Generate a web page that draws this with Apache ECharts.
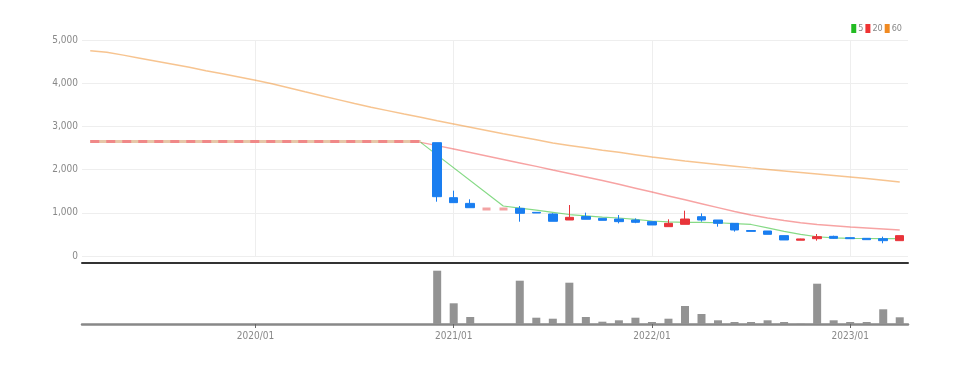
<!DOCTYPE html>
<html><head><meta charset="utf-8">
<script src="https://cdn.jsdelivr.net/npm/echarts@6/dist/echarts.min.js"></script>
<style>html,body{margin:0;padding:0;background:#fff}#c{width:967px;height:365px}</style>
</head><body><div id="c"></div>
<script>
// categories: monthly 2019/03 .. 2023/04
var categories = [];
(function(){var y=2019,m=3;for(var i=0;i<50;i++){categories.push(y+'/'+(m<10?'0'+m:m));m++;if(m>12){m=1;y++;}}})();

// candle values [open, close, low, high]; null = no candle
var candles = [
 null,null,null,null,null,null,null,null,null,null,
 null,null,null,null,null,null,null,null,null,null,
 null,
 [2623,1373,1257,2623],
 [1350,1235,1235,1512],
 [1218,1118,1118,1312],
 [1088,1088,1088,1088],
 [1088,1088,1088,1088],
 [1103,988,794,1157],
 [1010,995,995,1010],
 [972,803,803,990],
 [833,895,833,1180],
 [913,850,850,1003],
 [872,826,826,872],
 [856,795,755,949],
 [833,780,760,870],
 [795,718,718,795],
 [679,756,679,849],
 [733,856,733,1049],
 [910,833,795,987],
 [833,756,679,833],
 [756,602,564,756],
 [590,570,570,590],
 [579,502,502,579],
 [471,371,371,471],
 [365,395,365,401],
 [401,448,355,509],
 [455,409,400,470],
 [424,401,401,424],
 [409,378,378,409],
 [401,355,294,448],
 [355,471,355,471]
];

var volumes = [
 0,0,0,0,0,0,0,0,0,0, 0,0,0,0,0,0,0,0,0,0, 0,
 533000,207000,70000,0,0,433000,63000,53000,413000,70000,
 23000,37000,63000,20000,53000,180000,100000,37000,20000,20000,
 37000,20000,3000,403000,37000,20000,20000,147000,67000
];

var ma5 = [
 null,null,null,null,null,null,null,null,null,null,
 null,null,null,null,null,null,null,null,null,null,
 2630,null,null,null,null,1157,1110,1060,1010,960,
 930,900,880,850,810,790,780,780,770,750,
 730,650,570,500,445,420,410,405,400,400
];

var ma20 = [
 null,null,null,null,null,null,null,null,null,null,
 null,null,null,null,null,null,null,null,null,null,
 2630,2555,2475,2395,2315,2235,2155,2075,1990,1910,
 1830,1750,1660,1570,1480,1390,1300,1210,1120,1030,
 950,880,820,770,730,700,670,650,625,600
];

var ma60 = [
 4750,4715,4650,4580,4510,4440,4370,4290,4220,4145,
 4070,3985,3895,3800,3710,3620,3530,3445,3365,3285,
 3210,3130,3055,2980,2905,2830,2760,2690,2615,2560,
 2505,2450,2400,2345,2290,2245,2200,2160,2120,2080,
 2040,2005,1970,1935,1900,1865,1830,1795,1755,1715
];

// pre-listing reference price line
var basePrice = [
 2650,2650,2650,2650,2650,2650,2650,2650,2650,2650,
 2650,2650,2650,2650,2650,2650,2650,2650,2650,2650,
 2650,null,null,null,null,null,null,null,null,null,
 null,null,null,null,null,null,null,null,null,null,
 null,null,null,null,null,null,null,null,null,null
];

var yTicks = [0,1000,2000,3000,4000,5000];

var FONT = "'Liberation Sans Narrow','DejaVu Sans Condensed','Liberation Sans',sans-serif";
var UP = '#e8343a', DOWN = '#1a7ef0';
function isJan(i, v){ return /\/01$/.test(v); }

var candleData = candles.map(function(c){
  if(!c) return '-';
  if(c[0]===c[1] && c[2]===c[3]) return {value:c, itemStyle:{color:'#f3a3a3',borderColor:'#f3a3a3',color0:'#f3a3a3',borderColor0:'#f3a3a3',borderWidth:3}};
  return c;
});
var volData = volumes.map(function(v){ return v===0 ? '-' : v; });

var chart = echarts.init(document.getElementById('c'), null, {renderer:'canvas'});
chart.setOption({
  animation:false,
  backgroundColor:'#fff',
  legend:{
    data:['5','20','60'], right:60, top:19, icon:'rect', itemWidth:5, itemHeight:9, itemGap:2,
    textStyle:{fontSize:9, color:'#888', fontFamily:FONT, padding:[0,0,0,-3]}
  },
  grid:[
    {left:82, right:59, top:40, bottom:109},
    {left:82, right:59, top:262, bottom:41}
  ],
  xAxis:[
    {type:'category', gridIndex:0, data:categories, boundaryGap:true,
     axisLine:{show:true, onZero:false, lineStyle:{color:'#333', width:2}}, offset:7,
     axisTick:{show:false, alignWithLabel:true, interval:isJan},
     axisLabel:{show:false, interval:isJan},
     splitLine:{show:true, interval:isJan, alignWithLabel:true, lineStyle:{color:'#eee', width:1}}},
    {type:'category', gridIndex:1, data:categories, boundaryGap:true,
     axisLine:{show:true, lineStyle:{color:'#888', width:2.5}},
     axisTick:{show:true, alignWithLabel:true, interval:isJan, length:4, lineStyle:{color:'#666'}},
     axisLabel:{show:true, interval:isJan, fontSize:10, color:'#888', fontFamily:FONT, margin:7},
     splitLine:{show:false}}
  ],
  yAxis:[
    {type:'value', gridIndex:0, min:yTicks[0], max:yTicks[yTicks.length-1], interval:1000,
     axisLine:{show:false}, axisTick:{show:false},
     axisLabel:{fontSize:10, color:'#888', fontFamily:FONT, margin:4,
       formatter:function(v){return v.toLocaleString('en-US');}},
     splitLine:{lineStyle:{color:'#eee'}}},
    {type:'value', gridIndex:1, min:0, max:620000,
     axisLine:{show:false}, axisTick:{show:false}, axisLabel:{show:false}, splitLine:{show:false}}
  ],
  series:[
    {name:'base', type:'line', data:basePrice, xAxisIndex:0, yAxisIndex:0, symbol:'none',
     lineStyle:{color:'#e6c7a8', width:3}, z:2},
    {name:'base2', type:'line', data:basePrice, xAxisIndex:0, yAxisIndex:0, symbol:'none',
     lineStyle:{color:'#f08888', width:3, type:[9,7]}, z:3},
    {name:'60', type:'line', data:ma60, symbol:'none', connectNulls:true,
     itemStyle:{color:'#f08a22'}, lineStyle:{color:'#f08a22', width:1.5, opacity:0.5}, z:4},
    {name:'20', type:'line', data:ma20, symbol:'none', connectNulls:true,
     itemStyle:{color:'#ee3333'}, lineStyle:{color:'#ee3333', width:1.5, opacity:0.45}, z:4},
    {name:'5', type:'line', data:ma5, symbol:'none', connectNulls:true,
     itemStyle:{color:'#22bb22'}, lineStyle:{color:'#22bb22', width:1.2, opacity:0.55}, z:4},
    {name:'price', type:'candlestick', data:candleData, barWidth:9,
     itemStyle:{color:UP, color0:DOWN, borderColor:UP, borderColor0:DOWN, borderWidth:1}, z:5},
    {name:'vol', type:'bar', data:volData, xAxisIndex:1, yAxisIndex:1, barWidth:8,
     itemStyle:{color:'#939393'}}
  ]
});
</script></body></html>
